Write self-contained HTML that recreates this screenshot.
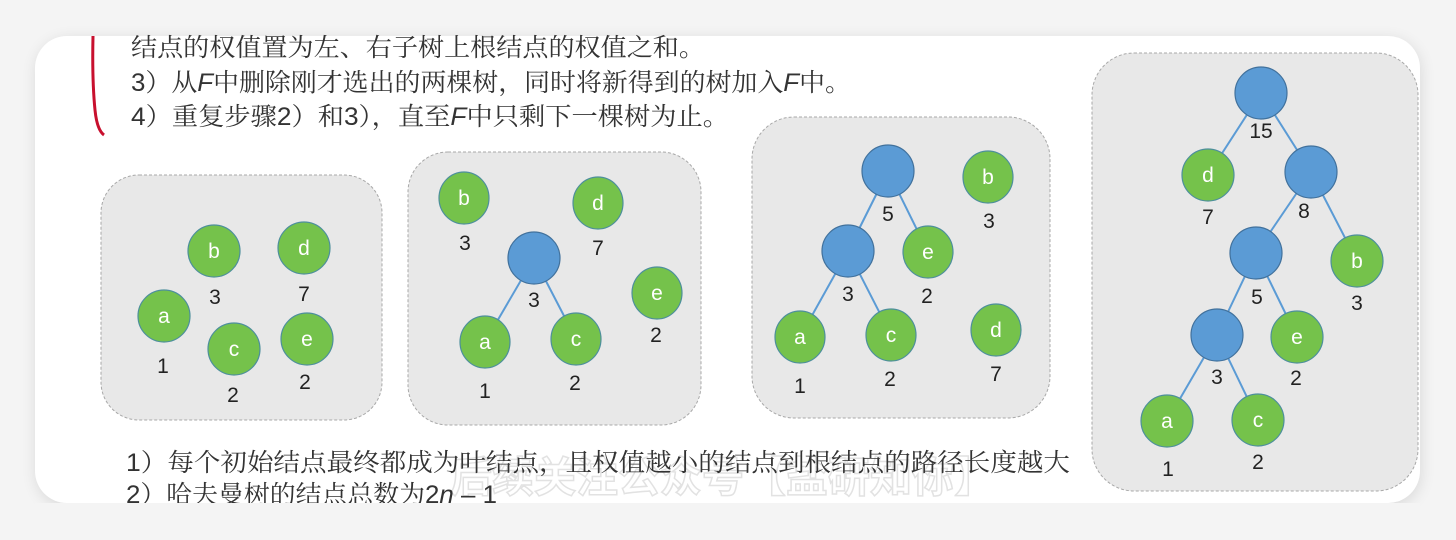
<!DOCTYPE html>
<html><head><meta charset="utf-8"><style>
html,body{margin:0;padding:0;background:#f3f3f3;width:1456px;height:540px;overflow:hidden}
svg{display:block}
</style></head><body>
<svg width="1456" height="540" viewBox="0 0 1456 540" xmlns="http://www.w3.org/2000/svg" font-family="'Liberation Sans','Noto Sans CJK SC',sans-serif">
<defs>
<filter id="sh" x="-5%" y="-10%" width="110%" height="120%"><feGaussianBlur stdDeviation="8"/></filter>
</defs>
<rect x="0" y="0" width="1456" height="540" fill="#f4f4f4"/>
<rect x="37" y="40" width="1383" height="466" rx="32" fill="#000" opacity="0.12" filter="url(#sh)"/>
<rect x="35" y="36" width="1385" height="467" rx="32" fill="#fff"/>
<path d="M93 36 Q92 80 95 110 Q97 130 104 135" stroke="#c8102e" stroke-width="3" fill="none"/>
<text x="450" y="492" font-size="42" fill="none" stroke="#e2e2e2" stroke-width="1.5" font-family="'Noto Sans CJK SC',sans-serif" font-weight="bold">后续关注公众号【盐研知你】</text>
<g font-size="25" fill="#333" font-family="'Liberation Sans','Noto Serif CJK SC',serif" lengthAdjust="spacingAndGlyphs">
<text x="131" y="56" textLength="574" lengthAdjust="spacingAndGlyphs">结点的权值置为左、右子树上根结点的权值之和。</text>
<text x="131" y="91" textLength="720" lengthAdjust="spacingAndGlyphs">3）从<tspan font-style="italic">F</tspan>中删除刚才选出的两棵树，同时将新得到的树加入<tspan font-style="italic">F</tspan>中。</text>
<text x="131" y="125" textLength="598" lengthAdjust="spacingAndGlyphs">4）重复步骤2）和3），直至<tspan font-style="italic">F</tspan>中只剩下一棵树为止。</text>
<text x="126" y="471" textLength="944" lengthAdjust="spacingAndGlyphs">1）每个初始结点最终都成为叶结点，且权值越小的结点到根结点的路径长度越大</text>
<text x="126" y="503" textLength="371" lengthAdjust="spacingAndGlyphs">2）哈夫曼树的结点总数为2<tspan font-style="italic">n</tspan> – 1</text>
</g>
<rect x="35" y="503" width="1385" height="40" fill="#f4f4f4"/>
<g fill="#e8e8e8" stroke="#a8a8a8" stroke-width="1" stroke-dasharray="3,2">
<rect x="101" y="175" width="281" height="245" rx="38"/>
<rect x="408" y="152" width="293" height="273" rx="40"/>
<rect x="752" y="117" width="298" height="301" rx="42"/>
<rect x="1092" y="53" width="326" height="438" rx="42"/>
</g>
<g stroke="#5b9bd5" stroke-width="2">
<line x1="534" y1="258" x2="485" y2="342"/><line x1="534" y1="258" x2="576" y2="339"/>
<line x1="888" y1="171" x2="848" y2="251"/><line x1="888" y1="171" x2="928" y2="252"/>
<line x1="848" y1="251" x2="800" y2="337"/><line x1="848" y1="251" x2="891" y2="335"/>
<line x1="1261" y1="93" x2="1208" y2="175"/><line x1="1261" y1="93" x2="1311" y2="172"/>
<line x1="1311" y1="172" x2="1256" y2="253"/><line x1="1311" y1="172" x2="1357" y2="261"/>
<line x1="1256" y1="253" x2="1217" y2="335"/><line x1="1256" y1="253" x2="1297" y2="337"/>
<line x1="1217" y1="335" x2="1167" y2="421"/><line x1="1217" y1="335" x2="1258" y2="420"/>
</g>
<g fill="#5b9bd5" stroke="#41719c" stroke-width="1.2">
<ellipse cx="534" cy="258" rx="26" ry="26"/>
<ellipse cx="888" cy="171" rx="26" ry="26"/>
<ellipse cx="848" cy="251" rx="26" ry="26"/>
<ellipse cx="1261" cy="93" rx="26" ry="26"/>
<ellipse cx="1311" cy="172" rx="26" ry="26"/>
<ellipse cx="1256" cy="253" rx="26" ry="26"/>
<ellipse cx="1217" cy="335" rx="26" ry="26"/>
</g>
<g fill="#75c24b" stroke="#4d8f9c" stroke-width="1.2">
<ellipse cx="214" cy="251" rx="26" ry="26"/><ellipse cx="304" cy="248" rx="26" ry="26"/>
<ellipse cx="164" cy="316" rx="26" ry="26"/><ellipse cx="234" cy="349" rx="26" ry="26"/>
<ellipse cx="307" cy="339" rx="26" ry="26"/>
<ellipse cx="464" cy="198" rx="25" ry="26"/><ellipse cx="598" cy="203" rx="25" ry="26"/>
<ellipse cx="657" cy="293" rx="25" ry="26"/><ellipse cx="485" cy="342" rx="25" ry="26"/>
<ellipse cx="576" cy="339" rx="25" ry="26"/>
<ellipse cx="988" cy="177" rx="25" ry="26"/><ellipse cx="928" cy="252" rx="25" ry="26"/>
<ellipse cx="800" cy="337" rx="25" ry="26"/><ellipse cx="891" cy="335" rx="25" ry="26"/>
<ellipse cx="996" cy="330" rx="25" ry="26"/>
<ellipse cx="1208" cy="175" rx="26" ry="26"/><ellipse cx="1357" cy="261" rx="26" ry="26"/>
<ellipse cx="1297" cy="337" rx="26" ry="26"/><ellipse cx="1167" cy="421" rx="26" ry="26"/>
<ellipse cx="1258" cy="420" rx="26" ry="26"/>
</g>
<g fill="#fff" font-size="21" text-anchor="middle">
<text x="214" y="258">b</text><text x="304" y="255">d</text><text x="164" y="323">a</text><text x="234" y="356">c</text><text x="307" y="346">e</text>
<text x="464" y="205">b</text><text x="598" y="210">d</text><text x="657" y="300">e</text><text x="485" y="349">a</text><text x="576" y="346">c</text>
<text x="988" y="184">b</text><text x="928" y="259">e</text><text x="800" y="344">a</text><text x="891" y="342">c</text><text x="996" y="337">d</text>
<text x="1208" y="182">d</text><text x="1357" y="268">b</text><text x="1297" y="344">e</text><text x="1167" y="428">a</text><text x="1258" y="427">c</text>
</g>
<g fill="#222" font-size="21" text-anchor="middle">
<text x="215" y="304">3</text><text x="304" y="301">7</text><text x="163" y="373">1</text><text x="233" y="402">2</text><text x="305" y="389">2</text>
<text x="465" y="250">3</text><text x="598" y="255">7</text><text x="534" y="307">3</text><text x="656" y="342">2</text><text x="485" y="398">1</text><text x="575" y="390">2</text>
<text x="888" y="221">5</text><text x="989" y="228">3</text><text x="848" y="301">3</text><text x="927" y="303">2</text><text x="800" y="393">1</text><text x="890" y="386">2</text><text x="996" y="381">7</text>
<text x="1261" y="138">15</text><text x="1208" y="224">7</text><text x="1304" y="218">8</text><text x="1257" y="304">5</text><text x="1357" y="310">3</text><text x="1217" y="384">3</text><text x="1296" y="385">2</text><text x="1168" y="476">1</text><text x="1258" y="469">2</text>
</g>
</svg>
</body></html>
